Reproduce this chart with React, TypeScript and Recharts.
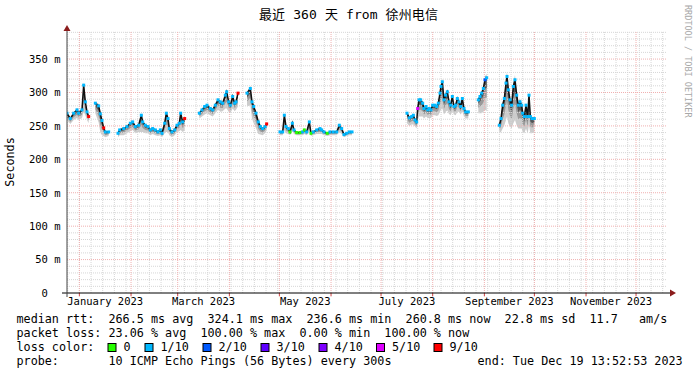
import { ComposedChart, Area, Line, Scatter, XAxis, YAxis, ReferenceLine } from "recharts";

// day offsets from the graph start (Dec 24 2022 13:52), null median = no data
const days = [
  0, 2, 4, 6, 7, 9, 10, 11, 12, 13, 15,
  17, 19, 20, 21, 22, 23, 25, 28,
  30.6, 31.6, 34, 36, 38, 39.4, 41, 43, 44.6, 45.4, 47, 48.6, 50, 51.4, 53, 54.6, 56, 57, 58.6, 59.6, 60.6, 61.4, 63, 64.6, 66, 67.4, 68.2, 69.4, 70.6, 75,
  79.4, 81, 82.6, 84, 86, 87.4, 89, 90.6, 92, 93.4, 95, 95.8, 97, 98, 99.4, 100.6, 101.4, 102.6, 105,
  108, 110, 111, 112, 113.4, 114.8, 116, 117.4, 118.8, 119.8, 124,
  127.8, 129.4, 130.4, 131.4, 132.8, 133.8, 135.2, 136.2, 137.8, 139.8, 141.4, 142.4, 143.8, 145.4, 146.4, 147.8, 149.8, 151.8, 152.8, 154.2, 156.2, 157.8, 159.8, 161.8, 163.4, 164.8, 166.2, 167.8, 169.4, 171, 185,
  204, 205.4, 206.8, 207.8, 208.8, 209.8, 210.4, 211.2, 212.2, 213.4, 214.2, 215.4, 216.4, 217.4, 218.4, 219.4, 220.8, 221.8, 222.8, 223.8, 224.4, 225.2, 226.2, 227.2, 228.2, 229.2, 230.2, 231.2, 232.2, 233.2, 234.2, 235.2, 236.2, 237.2, 238.2, 239.2, 240.8, 244,
  246.8, 247.8, 248.8, 249.8, 250.8, 251.8, 255,
  259.4, 260.4, 261.4, 262.4, 263.4, 264, 264.8, 265.8, 266.8, 267.8, 268.8, 269.8, 270.8, 271.8, 272.8, 273.4, 274.4, 275.4, 276.4, 277.2, 278, 279, 280.4,
];

// median rtt in ms
const median: (number | null)[] = [
  269, 261, 269, 274, 269, 274, 311, 286, 271, 264, null,
  284, 280, 268, 258, 247, 241, 241, null,
  239, 244, 246, 249, 254, 256, 249, 251, 266, 256, 251, 249, 244, 246, 244, 241, 244, 239, 254, 269, 261, 246, 241, 244, 251, 254, 269, 256, 261, null,
  269, 274, 279, 281, 276, 274, 281, 289, 286, 284, 296, 301, 286, 281, 294, 284, 286, 299, null,
  299, 306, 286, 279, 269, 256, 249, 246, 249, 253, null,
  241, 241, 266, 249, 246, 241, 254, 244, 240, 240, 241, 244, 241, 256, 239, 241, 244, 246, 244, 241, 239, 241, 241, 241, 251, 246, 237, 239, 241, 241, null,
  269, 262, 264, 266, 259, 256, 276, 289, 289, 284, 276, 279, 274, 276, 274, 281, 281, 279, 284, 299, 309, 316, 289, 296, 301, 286, 281, 294, 279, 281, 291, 286, 279, 291, 276, 271, 271, null,
  289, 294, 299, 306, 319, 322, null,
  251, 261, 281, 291, 314, 324, 304, 289, 281, 309, 319, 296, 281, 286, 281, 269, 264, 281, 264, 296, 264, 261, 261,
];

// lost pings out of 10
const loss: (number | null)[] = [
  1, 1, 1, 1, 1, 1, 1, 1, 1, 9, null,
  1, 1, 1, 1, 9, 1, 1, null,
  1, 1, 1, 1, 1, 1, 1, 1, 1, 1, 1, 1, 1, 1, 1, 1, 1, 1, 1, 1, 1, 1, 1, 1, 1, 1, 1, 1, 9, null,
  1, 1, 1, 1, 1, 1, 1, 1, 1, 1, 1, 1, 1, 1, 1, 1, 1, 9, null,
  1, 1, 1, 1, 1, 1, 1, 1, 1, 9, null,
  1, 1, 1, 1, 1, 0, 1, 1, 0, 0, 1, 0, 1, 1, 0, 1, 1, 1, 1, 1, 0, 1, 1, 1, 1, 1, 1, 1, 1, 1, null,
  1, 1, 1, 1, 1, 1, 5, 1, 1, 1, 1, 1, 1, 1, 1, 1, 1, 1, 1, 1, 1, 1, 1, 1, 1, 1, 1, 1, 1, 1, 1, 1, 1, 1, 1, 1, 1, null,
  1, 1, 1, 1, 2, 1, null,
  1, 1, 1, 1, 1, 1, 1, 1, 1, 1, 1, 1, 1, 1, 1, 1, 1, 1, 1, 1, 1, 1, 1,
];

// how far the smoke reaches below the median (ms)
const smokeDepth: (number | null)[] = [
  10, 8, 10, 12, 10, 12, 40, 20, 12, 10, null,
  15, 25, 28, 22, 12, 8, 6, null,
  6, 8, 10, 10, 12, 12, 10, 10, 25, 15, 12, 10, 8, 8, 8, 6, 8, 6, 15, 28, 20, 10, 8, 8, 10, 12, 25, 15, 18, null,
  8, 10, 12, 12, 10, 10, 12, 15, 15, 12, 20, 25, 15, 12, 18, 12, 12, 20, null,
  20, 25, 25, 25, 22, 18, 12, 10, 10, 10, null,
  5, 5, 22, 10, 8, 5, 12, 6, 4, 4, 5, 6, 5, 15, 4, 5, 6, 8, 6, 5, 4, 5, 5, 5, 10, 8, 4, 4, 5, 5, null,
  15, 12, 12, 14, 10, 10, 18, 25, 25, 20, 15, 15, 12, 14, 12, 15, 15, 14, 18, 28, 35, 40, 22, 25, 28, 18, 15, 22, 12, 15, 20, 15, 12, 20, 12, 10, 10, null,
  20, 25, 30, 35, 45, 50, null,
  12, 20, 35, 40, 55, 60, 50, 40, 35, 55, 60, 45, 35, 40, 35, 28, 25, 35, 25, 45, 25, 22, 20,
];

const monthLabels = ["January 2023", "March 2023", "May 2023", "July 2023", "September 2023", "November 2023"];
const yTicks = [0, 50, 100, 150, 200, 250, 300, 350];

const lossColors: Record<number, string> = {
  0: "#26ff00",
  1: "#00b8ff",
  2: "#0059ff",
  3: "#5e00ff",
  4: "#7e00ff",
  5: "#dd00ff",
  9: "#ff0000",
};
const legendLoss = [0, 1, 2, 3, 4, 5, 9];
const legendBoxX = [108, 145, 203, 261, 319, 376.5, 434];

const START = Date.UTC(2022, 11, 24, 13, 52, 53);
const dayOf = (y: number, m: number, d: number) => (Date.UTC(y, m, d) - START) / 86400000;

const monthStarts = Array.from({ length: 12 }, (_, m) => dayOf(2023, m, 1));
const labelDays = [0, 2, 4, 6, 8, 10].map((m) => (dayOf(2023, m, 1) + dayOf(2023, m + 1, 1)) / 2);
const weekLines: number[] = [];
for (let d = dayOf(2022, 11, 25); d < 360; d += 7) weekLines.push(d);
const minorY: number[] = [];
for (let v = 10; v < 392; v += 10) if (v % 50 !== 0) minorY.push(v);

const rows = days.map((day, i) => {
  const m = median[i];
  const s = smokeDepth[i] ?? 0;
  return {
    day,
    median: m,
    loss: loss[i],
    smoke1: m == null ? null : [m - s, m + s * 0.12],
    smoke2: m == null ? null : [m - s * 0.6, m + s * 0.06],
    smoke3: m == null ? null : [m - s * 0.3, m],
  };
});
const points = rows.filter((r) => r.median != null);

const MONO = "DejaVu Sans Mono, monospace";
const MINOR = "#d6d6d6";
const MAJOR = "#f0b0b0";

export default function App() {
  return (
    <div style={{ position: "absolute", left: 0, top: 0, width: 697, height: 375, background: "#fff" }}>
      <ComposedChart width={697} height={375} data={rows} margin={{ top: 31, right: 30, left: 0, bottom: 62 }}>
        {weekLines.map((d) => (
          <ReferenceLine key={"w" + d} x={d} stroke={MINOR} strokeDasharray="1 1" />
        ))}
        {minorY.map((v) => (
          <ReferenceLine key={"y" + v} y={v} stroke={MINOR} strokeDasharray="1 1" />
        ))}
        {monthStarts.map((d) => (
          <ReferenceLine key={"m" + d} x={d} stroke={MAJOR} strokeDasharray="1 1" />
        ))}
        {yTicks.slice(1).map((v) => (
          <ReferenceLine key={"Y" + v} y={v} stroke={MAJOR} strokeDasharray="1 1" />
        ))}
        {monthStarts.map((d) => (
          <ReferenceLine
            key={"t" + d}
            segment={[{ x: d, y: 0 }, { x: d, y: -5 }]}
            stroke="#d04040"
            ifOverflow="visible"
          />
        ))}
        <XAxis
          dataKey="day"
          type="number"
          domain={[0, 360]}
          ticks={labelDays}
          interval={0}
          axisLine={false}
          tickLine={false}
          height={20}
          allowDataOverflow
          tick={(p: any) => (
            <text x={p.x} y={305} textAnchor="middle" fontFamily={MONO} fontSize={10.5} fill="#000">
              {monthLabels[p.index]}
            </text>
          )}
        />
        <YAxis
          type="number"
          domain={[0, 392]}
          ticks={yTicks}
          interval={0}
          axisLine={false}
          tickLine={false}
          width={67}
          allowDataOverflow
          tick={(p: any) => (
            <text
              x={p.payload.value === 0 ? 47.9 : 60.5}
              y={p.y}
              dy={3.8}
              textAnchor="end"
              fontFamily={MONO}
              fontSize={10.5}
              fill="#000"
            >
              {p.payload.value === 0 ? "0" : `${p.payload.value} m`}
            </text>
          )}
        />
        <Area dataKey="smoke1" type="linear" stroke="none" fill="#cccccc" fillOpacity={1} connectNulls={false} isAnimationActive={false} />
        <Area dataKey="smoke2" type="linear" stroke="none" fill="#9a9a9a" fillOpacity={1} connectNulls={false} isAnimationActive={false} />
        <Area dataKey="smoke3" type="linear" stroke="none" fill="#555555" fillOpacity={1} connectNulls={false} isAnimationActive={false} />
        <Line dataKey="median" type="linear" stroke="#111" strokeWidth={1.5} dot={false} connectNulls={false} isAnimationActive={false} />
        <Scatter
          data={points}
          dataKey="median"
          isAnimationActive={false}
          shape={(p: any) => (
            <rect x={p.cx - 1.5} y={p.cy - 1.5} width={3} height={3} fill={lossColors[p.payload.loss] ?? "#00b8ff"} />
          )}
        />
      </ComposedChart>

      <svg width={697} height={375} style={{ position: "absolute", left: 0, top: 0, pointerEvents: "none" }}>
        <text x={348.5} y={19} textAnchor="middle" fontFamily="DejaVu Sans Mono, Noto Sans CJK SC" fontSize={13} textLength={179} fill="#000">
          最近 360 天 from 徐州电信
        </text>
        <text x={10} y={162} dy={4} textAnchor="middle" transform="rotate(-90 10 162)" fontFamily={MONO} fontSize={11.76} fill="#000">
          Seconds
        </text>
        <text x={688} y={5} dy="0.35em" transform="rotate(90 688 5)" fontFamily={MONO} fontSize={8.5} fill="#a8a8a8">
          RRDTOOL / TOBI OETIKER
        </text>

        <line x1={62} y1={293} x2={671} y2={293} stroke="#000" strokeWidth={1} />
        <polygon points="670,289.5 676,293 670,296.5" fill="#8b1c1c" />
        <line x1={67} y1={297} x2={67} y2={30} stroke="#444" strokeWidth={1} />
        <polygon points="63.5,31 67,25 70.5,31" fill="#8b1c1c" />

        <g fontFamily={MONO} fontSize={11.76} fill="#000" style={{ whiteSpace: "pre" }}>
          <text x={16.5} y={323} xmlSpace="preserve">
            {"median rtt:  266.5 ms avg  324.1 ms max  236.6 ms min  260.8 ms now  22.8 ms sd  11.7   am/s"}
          </text>
          <text x={16.5} y={337} xmlSpace="preserve">
            {"packet loss: 23.06 % avg  100.00 % max  0.00 % min  100.00 % now"}
          </text>
          <text x={16.5} y={351} xmlSpace="preserve">
            {"loss color:"}
          </text>
          {legendLoss.map((n, i) => (
            <g key={n}>
              <rect x={legendBoxX[i]} y={343.5} width={8} height={8} fill={lossColors[n]} stroke="#000" strokeWidth={1} />
              <text x={legendBoxX[i] + 15.5} y={351}>
                {n === 0 ? "0" : `${n}/10`}
              </text>
            </g>
          ))}
          <text x={16.5} y={365} xmlSpace="preserve">
            {"probe:"}
          </text>
          <text x={108.5} y={365} xmlSpace="preserve">
            {"10 ICMP Echo Pings (56 Bytes) every 300s"}
          </text>
          <text x={477.5} y={365} xmlSpace="preserve">
            {"end: Tue Dec 19 13:52:53 2023"}
          </text>
        </g>
      </svg>
    </div>
  );
}
